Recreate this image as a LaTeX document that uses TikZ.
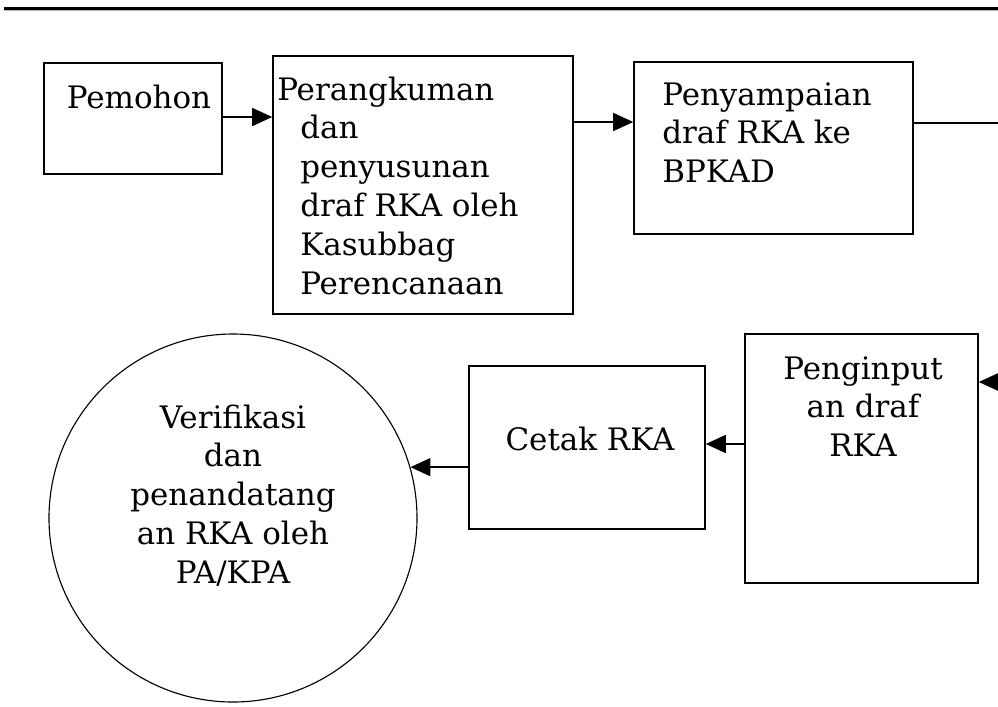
\documentclass[tikz,border=0pt]{standalone}
\usepackage{fontspec}
\setmainfont{DejaVu Serif}
\usetikzlibrary{arrows.meta}

\begin{document}
\begin{tikzpicture}[x=0.025cm,y=-0.025cm,
    kotak/.style={draw,line width=1.1pt,inner sep=0pt},
    panah/.style={line width=1.1pt,-{Triangle[length=0.5cm,width=0.45cm]}},
    teks/.style={inner sep=0pt,font=\fontsize{22}{27.7}\selectfont}]
    \useasboundingbox (0,0) rectangle (998,706);

    %garis atas
    \draw[line width=0.075cm] (4,8.5) -- (998,8.5);
    \draw[gray!60,line width=0.6pt] (4,10.5) -- (998,10.5);

    %kotak-kotak
    \node[kotak,minimum width=178*0.025cm,minimum height=111*0.025cm] (pemohon) at (133,118.5) {};
    \node[kotak,minimum width=300*0.025cm,minimum height=258*0.025cm] (rangkum) at (423,185) {};
    \node[kotak,minimum width=279*0.025cm,minimum height=172*0.025cm] (sampai) at (773.5,148) {};
    \node[kotak,minimum width=233*0.025cm,minimum height=249*0.025cm] (input) at (861.5,458.5) {};
    \node[kotak,minimum width=236*0.025cm,minimum height=163*0.025cm] (cetak) at (587,447.5) {};
    \node[kotak,circle,line width=0.8pt,minimum size=368*0.025cm] (verif) at (233,518) {};

    %isi teks
    \node[teks,anchor=base] (t-pemohon) at (139,108) {Pemohon};
    \node[teks,anchor=base west] (t-rangkum) at (300,100)
        {\begin{tabular}[t]{@{}l@{}}\hspace*{-0.575cm}Perangkuman\\dan\\penyusunan\\draf RKA oleh\\Kasubbag\\Perencanaan\end{tabular}};
    \node[teks,anchor=base west] (t-sampai) at (662,105)
        {\begin{tabular}[t]{@{}l@{}}Penyampaian\\draf RKA ke\\BPKAD\end{tabular}};
    \node[teks,anchor=base] (t-input) at (863,379)
        {\begin{tabular}[t]{@{}c@{}}Penginput\\an draf\\RKA\end{tabular}};
    \node[teks,anchor=base] (t-cetak) at (590,450) {Cetak RKA};
    \node[teks,anchor=base] (t-verif) at (233,428)
        {\begin{tabular}[t]{@{}c@{}}Verifikasi\\dan\\penandatang\\an RKA oleh\\PA/KPA\end{tabular}};

    %panah
    \draw[panah] (pemohon.east |- 0,117) -- (rangkum.west |- 0,117);
    \draw[panah] (rangkum.east |- 0,122) -- (sampai.west |- 0,122);
    \draw[panah] (sampai.east |- 0,123) -| (1010,382) -- (input.east |- 0,382);
    \draw[panah] (input.west |- 0,444) -- (cetak.east |- 0,444);
    \draw[panah] (cetak.west |- verif.16.7) -- (verif.16.7);
\end{tikzpicture}
\end{document}
